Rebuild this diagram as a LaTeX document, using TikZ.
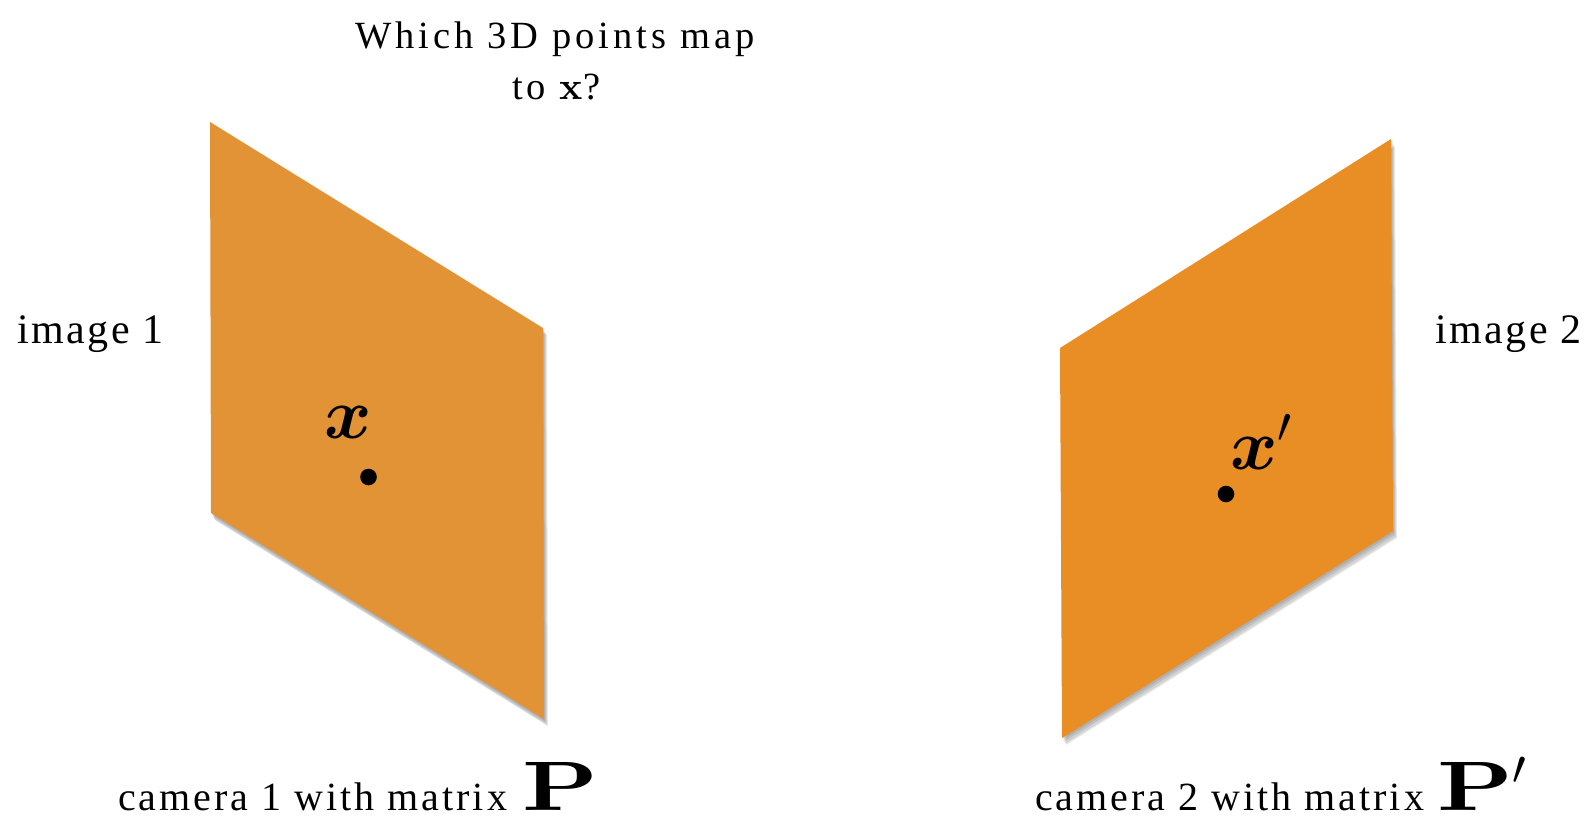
\RequirePackage{fix-cm}
\documentclass[tikz,border=0pt]{standalone}
\usepackage{amsmath,amsbsy}
\usepackage[no-math]{fontspec}
\setmainfont{Liberation Serif}
\newfontfamily\titlefont[LetterSpace=10.5]{Liberation Serif}
\newfontfamily\imgfont[LetterSpace=6]{Liberation Serif}
\newfontfamily\camfont[LetterSpace=7.5]{Liberation Serif}
\IfFontExistsTF{lmroman10-bold.otf}
  {\newfontfamily\boldP{lmroman10-bold.otf}
   \newfontfamily\boldX{lmroman10-bold.otf}}
  {\newfontfamily\boldP[FakeBold=4.5]{lmroman10-regular.otf}
   \newfontfamily\boldX[FakeBold=3]{lmroman10-regular.otf}}
\newcommand\bigP{\fontsize{70}{80}\selectfont\scalebox{1.38}[1]{\boldP P}}
\definecolor{planeA}{RGB}{226,147,53}
\definecolor{planeB}{RGB}{233,142,37}
\tikzset{
  lbl/.style={inner sep=0pt, outer sep=0pt, anchor=base west},
  shadowlayer/.style={fill=black, opacity=0.09},
  ptdot/.style={fill=black},
}
\begin{document}
\begin{tikzpicture}[x=1pt,y=-1pt]
\useasboundingbox (0,0) rectangle (1590,817);
% shadows
\foreach \dx/\dy in {1/2,2/4,3/6,4/7}{
  \fill[shadowlayer, shift={(\dx,\dy)}] (210,122) -- (543,328) -- (544,719) -- (211,513) -- cycle;
  \fill[shadowlayer, shift={(\dx,\dy)}] (1060,348) -- (1391,139) -- (1393,531) -- (1062,738) -- cycle;
}
% planes
\fill[planeA] (210,122) -- (543,328) -- (544,719) -- (211,513) -- cycle;
\fill[planeB] (1060,348) -- (1391,139) -- (1393,531) -- (1062,738) -- cycle;
% points
\fill[ptdot] (368.5,477) circle (8.3);
\fill[ptdot] (1226,494) circle (8.3);
% labels
\node[lbl] (t1) at (355,48) {\titlefont\fontsize{38.5}{46}\selectfont Which 3D points map};
\node[lbl] (t2) at (512,99) {\titlefont\fontsize{38.5}{46}\selectfont to {\boldX x}?};
\node[lbl] (im1) at (17,343) {\imgfont\fontsize{42}{50}\selectfont image 1};
\node[lbl] (im2) at (1435,343) {\imgfont\fontsize{42}{50}\selectfont image 2};
\node[lbl] (c1) at (118,810) {\camfont\fontsize{40}{48}\selectfont camera 1 with matrix};
\node[lbl] (c2) at (1035,810) {\camfont\fontsize{40}{48}\selectfont camera 2 with matrix};
\node[lbl] (P1) at (522,810) {\bigP};
\node[lbl] (P2) at (1437,810) {\bigP$'$};
\node[lbl] (x1) at (324,438) {\fontsize{72}{80}\selectfont $\boldsymbol{x}$};
\node[lbl] (x2) at (1230,469) {\fontsize{72}{80}\selectfont $\boldsymbol{x}'$};
\end{tikzpicture}
\end{document}
